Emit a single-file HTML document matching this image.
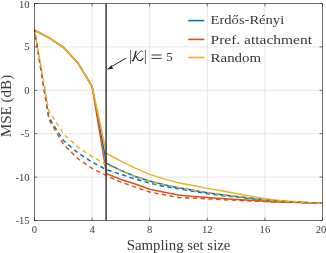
<!DOCTYPE html>
<html><head><meta charset="utf-8"><title>plot</title>
<style>
html,body{margin:0;padding:0;background:#fff;}
body{width:326px;height:253px;overflow:hidden;}
svg{display:block;will-change:transform;}
text{font-family:"Liberation Serif",serif;fill:#383838;}
</style></head><body>
<svg width="326" height="253" viewBox="0 0 326 253">
<rect width="326" height="253" fill="#fff"/>
<g stroke="#dfdfdf" stroke-width="0.8" fill="none"><line x1="92.10" y1="3.50" x2="92.10" y2="220.50"/><line x1="149.70" y1="3.50" x2="149.70" y2="220.50"/><line x1="207.30" y1="3.50" x2="207.30" y2="220.50"/><line x1="264.90" y1="3.50" x2="264.90" y2="220.50"/><line x1="34.50" y1="46.90" x2="322.50" y2="46.90"/><line x1="34.50" y1="90.30" x2="322.50" y2="90.30"/><line x1="34.50" y1="133.70" x2="322.50" y2="133.70"/><line x1="34.50" y1="177.10" x2="322.50" y2="177.10"/></g>
<g fill="none" stroke-width="1.45" stroke-linejoin="round">
<path d="M34.50 30.23 L48.90 37.53 L63.30 47.33 L77.70 62.70 L92.10 86.39 L106.50 163.30 L120.90 170.42 L135.30 176.49 L149.70 181.01 L164.10 184.74 L178.50 187.69 L192.90 190.29 L207.30 192.72 L221.70 194.72 L236.10 196.46 L250.50 197.93 L264.90 199.84 L279.30 201.32 L293.70 202.10 L308.10 202.62 L322.50 203.14" stroke="#0072BD"/>
<path d="M34.50 30.23 L48.90 37.53 L63.30 47.33 L77.70 62.70 L92.10 86.39 L106.50 173.80 L120.90 179.44 L135.30 184.04 L149.70 189.25 L164.10 192.29 L178.50 195.07 L192.90 196.46 L207.30 197.58 L221.70 198.54 L236.10 199.41 L250.50 200.28 L264.90 201.32 L279.30 201.92 L293.70 202.27 L308.10 202.71 L322.50 203.14" stroke="#D95319"/>
<path d="M34.50 30.23 L48.90 37.53 L63.30 47.33 L77.70 62.70 L92.10 86.39 L106.50 153.49 L120.90 161.22 L135.30 168.16 L149.70 174.32 L164.10 178.92 L178.50 182.83 L192.90 185.52 L207.30 188.38 L221.70 190.81 L236.10 193.42 L250.50 196.11 L264.90 198.63 L279.30 200.54 L293.70 201.40 L308.10 202.45 L322.50 203.14" stroke="#EDB120"/>
<path d="M34.50 30.23 L48.90 117.64 L63.30 140.47 L77.70 152.71 L92.10 162.17 L106.50 169.72 L120.90 174.32 L135.30 179.10 L149.70 183.09 L164.10 186.47 L178.50 188.90 L192.90 191.34 L207.30 193.68 L221.70 195.50 L236.10 197.06 L250.50 198.54 L264.90 200.02 L279.30 201.40 L293.70 202.10 L308.10 202.62 L322.50 203.14" stroke="#0072BD" stroke-dasharray="4.4 3.4" stroke-dashoffset="2.8"/>
<path d="M34.50 30.23 L48.90 119.38 L63.30 144.12 L77.70 158.61 L92.10 168.33 L106.50 175.54 L120.90 182.13 L135.30 187.08 L149.70 192.03 L164.10 194.72 L178.50 197.50 L192.90 198.11 L207.30 198.89 L221.70 199.58 L236.10 200.36 L250.50 200.97 L264.90 201.58 L279.30 202.10 L293.70 202.53 L308.10 202.88 L322.50 203.14" stroke="#D95319" stroke-dasharray="4.4 3.4" stroke-dashoffset="2.5"/>
<path d="M34.50 30.23 L48.90 111.13 L63.30 133.53 L77.70 147.15 L92.10 156.62 L106.50 164.60 L120.90 170.50 L135.30 176.67 L149.70 181.01 L164.10 184.91 L178.50 187.69 L192.90 190.29 L207.30 192.72 L221.70 194.72 L236.10 196.46 L250.50 197.93 L264.90 199.67 L279.30 201.06 L293.70 201.92 L308.10 202.62 L322.50 203.14" stroke="#EDB120" stroke-dasharray="4.4 3.4" stroke-dashoffset="5.8"/>
</g>
<line x1="106.1" y1="3.50" x2="106.1" y2="220.50" stroke="#3a3a3a" stroke-width="1.5"/>
<g stroke="#262626" stroke-width="0.65" fill="none"><rect x="34.50" y="3.50" width="288.00" height="217.00"/><line x1="34.50" y1="220.50" x2="34.50" y2="217.60"/><line x1="34.50" y1="3.50" x2="34.50" y2="6.40"/><line x1="92.10" y1="220.50" x2="92.10" y2="217.60"/><line x1="92.10" y1="3.50" x2="92.10" y2="6.40"/><line x1="149.70" y1="220.50" x2="149.70" y2="217.60"/><line x1="149.70" y1="3.50" x2="149.70" y2="6.40"/><line x1="207.30" y1="220.50" x2="207.30" y2="217.60"/><line x1="207.30" y1="3.50" x2="207.30" y2="6.40"/><line x1="264.90" y1="220.50" x2="264.90" y2="217.60"/><line x1="264.90" y1="3.50" x2="264.90" y2="6.40"/><line x1="322.50" y1="220.50" x2="322.50" y2="217.60"/><line x1="322.50" y1="3.50" x2="322.50" y2="6.40"/><line x1="34.50" y1="3.50" x2="37.40" y2="3.50"/><line x1="322.50" y1="3.50" x2="319.60" y2="3.50"/><line x1="34.50" y1="46.90" x2="37.40" y2="46.90"/><line x1="322.50" y1="46.90" x2="319.60" y2="46.90"/><line x1="34.50" y1="90.30" x2="37.40" y2="90.30"/><line x1="322.50" y1="90.30" x2="319.60" y2="90.30"/><line x1="34.50" y1="133.70" x2="37.40" y2="133.70"/><line x1="322.50" y1="133.70" x2="319.60" y2="133.70"/><line x1="34.50" y1="177.10" x2="37.40" y2="177.10"/><line x1="322.50" y1="177.10" x2="319.60" y2="177.10"/><line x1="34.50" y1="220.50" x2="37.40" y2="220.50"/><line x1="322.50" y1="220.50" x2="319.60" y2="220.50"/></g>
<g font-size="10.6">
<text x="29.5" y="7.60" text-anchor="end">10</text>
<text x="29.5" y="50.30" text-anchor="end">5</text>
<text x="29.5" y="93.70" text-anchor="end">0</text>
<text x="29.5" y="137.10" text-anchor="end">-5</text>
<text x="29.5" y="180.50" text-anchor="end">-10</text>
<text x="29.5" y="223.90" text-anchor="end">-15</text>
<text x="34.50" y="232.7" text-anchor="middle">0</text>
<text x="92.10" y="232.7" text-anchor="middle">4</text>
<text x="149.70" y="232.7" text-anchor="middle">8</text>
<text x="207.30" y="232.7" text-anchor="middle">12</text>
<text x="264.90" y="232.7" text-anchor="middle">16</text>
<text x="321.10" y="232.7" text-anchor="middle">20</text>
</g>
<text id="xl" x="126.8" y="249.7" font-size="14" textLength="103.6" lengthAdjust="spacingAndGlyphs">Sampling set size</text>
<text id="yl" transform="translate(11.4 137.2) rotate(-90)" font-size="14" textLength="62.4" lengthAdjust="spacingAndGlyphs">MSE (dB)</text>
<line x1="188.3" y1="20.60" x2="204.3" y2="20.60" stroke="#0072BD" stroke-width="1.6"/>
<text class="lg" x="210.6" y="23.80" font-size="13.3" textLength="73.6" lengthAdjust="spacingAndGlyphs">Erdős-Rényi</text>
<line x1="188.3" y1="39.40" x2="204.3" y2="39.40" stroke="#D95319" stroke-width="1.6"/>
<text class="lg" x="210.6" y="44.10" font-size="13.3" textLength="101.4" lengthAdjust="spacingAndGlyphs">Pref. attachment</text>
<line x1="188.3" y1="57.45" x2="204.3" y2="57.45" stroke="#EDB120" stroke-width="1.6"/>
<text class="lg" x="210.6" y="62.40" font-size="13.3" textLength="50.5" lengthAdjust="spacingAndGlyphs">Random</text>
<line x1="126" y1="58.2" x2="110.5" y2="67.2" stroke="#262626" stroke-width="1"/>
<path d="M106.8 69.4 L111.8 64.9 L112 66.9 L113.5 68.8 Z" fill="#262626"/>
<g stroke="#262626" stroke-width="0.7"><line x1="130.55" y1="49.9" x2="130.55" y2="64"/><line x1="145.4" y1="49.9" x2="145.4" y2="64"/></g><g stroke="#262626" stroke-width="0.9"><line x1="151.4" y1="55" x2="161.6" y2="55"/><line x1="151.4" y1="58.4" x2="161.6" y2="58.4"/></g>
<g fill="none" stroke="#262626" stroke-linecap="round" stroke-linejoin="round"><path d="M135.9 51.4 C135.2 54.5 134.4 58 133.3 60.5 L132.3 60.7" stroke-width="1.35"/><path d="M135 57 C137 55.6 138.4 52.6 140.8 51.3 C141.8 50.8 142.6 51.1 143 51.8" stroke-width="0.8"/><path d="M135.7 56.2 C136.6 57.5 137.2 59.5 138.6 60.3 C140.2 61.1 142 60 143 58.6" stroke-width="1.1"/></g>
<text id="five" x="166.2" y="60.9" font-size="12.9">5</text>
</svg>
</body></html>
